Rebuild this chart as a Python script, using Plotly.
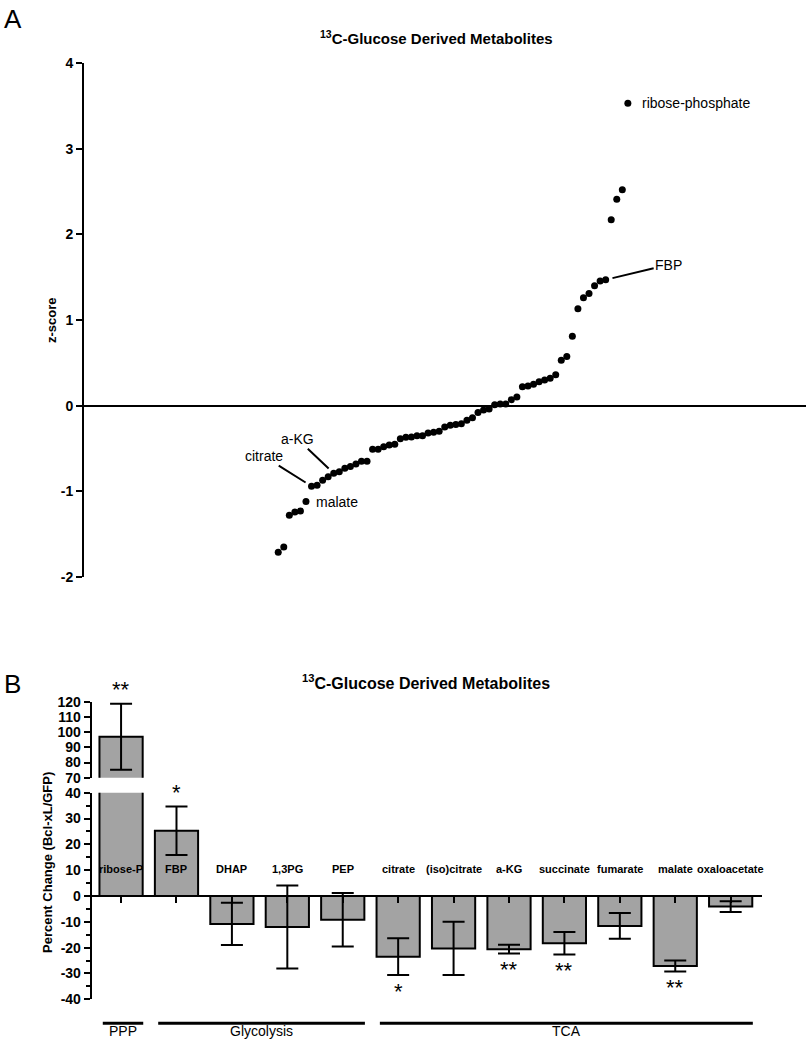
import plotly.graph_objects as go

# ---------------- Panel A data ----------------
zscores = [-1.71, -1.65, -1.28, -1.24, -1.23, -1.12, -0.94, -0.93, -0.87, -0.83,
           -0.79, -0.77, -0.73, -0.71, -0.68, -0.65, -0.65, -0.51, -0.51, -0.48,
           -0.46, -0.45, -0.385, -0.37, -0.365, -0.35, -0.35, -0.32, -0.31, -0.30,
           -0.25, -0.23, -0.22, -0.21, -0.17, -0.14, -0.08, -0.05, -0.04, 0.01,
           0.02, 0.02, 0.07, 0.10, 0.22, 0.23, 0.25, 0.28, 0.30, 0.32,
           0.36, 0.53, 0.575, 0.81, 1.13, 1.26, 1.31, 1.40, 1.455, 1.47,
           2.17, 2.41, 2.52, 3.53]
ranks = list(range(1, len(zscores) + 1))
z_ticks = [-2, -1, 0, 1, 2, 3, 4]
# labelled points: (name, rank index)
point_labels = {"malate": 6, "citrate": 7, "a-KG": 11, "FBP": 60, "ribose-phosphate": 64}

# ---------------- Panel B data ----------------
metabolites = ["ribose-P", "FBP", "DHAP", "1,3PG", "PEP", "citrate", "(iso)citrate",
               "a-KG", "succinate", "fumarate", "malate", "oxaloacetate"]
pct_change = [97.0, 25.3, -10.8, -12.0, -9.2, -23.5, -20.3, -20.6, -18.3, -11.6, -27.1, -4.1]
pct_err = [21.7, 9.4, 8.2, 16.1, 10.4, 7.1, 10.3, 1.7, 4.4, 5.0, 2.1, 2.1]
significance = ["**", "*", "", "", "", "*", "", "**", "**", "", "**", ""]
groups = [("PPP", 0, 0), ("Glycolysis", 1, 4), ("TCA", 5, 11)]
low_ticks = [-40, -30, -20, -10, 0, 10, 20, 30, 40]
up_ticks = [70, 80, 90, 100, 110, 120]

FONT = "Liberation Sans, Arial, Helvetica, sans-serif"
W, H = 806, 1050

# ---- geometry (paper fractions) ----
A_x = [84 / W, 1.0]
A_y = [(H - 577) / H, (H - 63) / H]
B_x = [91.7 / W, 761.7 / W]
B_low = [(H - 999.3) / H, (H - 792.7) / H]   # -40 .. 40
B_up = [(H - 777.7) / H, (H - 701.7) / H]    # 70 .. 120
LOW_R = [-40, 40]
UP_R = [70, 120]


def low_paper(v):
    return B_low[0] + (v - LOW_R[0]) / (LOW_R[1] - LOW_R[0]) * (B_low[1] - B_low[0])


def up_paper(v):
    return B_up[0] + (v - UP_R[0]) / (UP_R[1] - UP_R[0]) * (B_up[1] - B_up[0])


def tlabels(vals):
    return ["<b>%d</b>" % v for v in vals]


fig = go.Figure()

# Panel A scatter
fig.add_trace(go.Scatter(x=ranks, y=zscores, mode="markers",
                         marker=dict(color="black", size=7),
                         xaxis="x", yaxis="y", showlegend=False))

bar_style = dict(marker=dict(color="#a3a3a3", line=dict(color="black", width=2)),
                 error_y=dict(type="data", array=pct_err, visible=True,
                              color="black", thickness=2, width=11),
                 width=0.78, showlegend=False)
fig.add_trace(go.Bar(x=metabolites, y=pct_change, xaxis="x2", yaxis="y2", **bar_style))
fig.add_trace(go.Bar(x=metabolites, y=pct_change, xaxis="x3", yaxis="y3", **bar_style))

zero_pos = low_paper(0)
tickfont = dict(family=FONT, size=14, color="black")
yax_common = dict(showline=True, linecolor="black", linewidth=2,
                  ticks="outside", ticklen=6, tickwidth=2, tickcolor="black",
                  showgrid=False, tickfont=tickfont, automargin=False)

fig.update_layout(
    width=W, height=H, margin=dict(l=0, r=0, t=0, b=0, autoexpand=False),
    paper_bgcolor="white", plot_bgcolor="white",
    font=dict(family=FONT, color="black"),
    xaxis=dict(domain=A_x, range=[-34, 96.1], visible=False, anchor="y", automargin=False),
    yaxis=dict(domain=A_y, range=[-2, 4], anchor="x",
               tickmode="array", tickvals=z_ticks, ticktext=tlabels(z_ticks),
               zeroline=True, zerolinecolor="black", zerolinewidth=2, **yax_common),
    xaxis2=dict(domain=B_x, range=[-0.53, 11.56], type="category",
                anchor="free", position=zero_pos, automargin=False,
                showline=False, showgrid=False, ticks="outside", ticklen=6,
                tickwidth=2, tickcolor="black", showticklabels=False),
    yaxis2=dict(domain=B_low, range=LOW_R, anchor="x2",
                tickmode="array", tickvals=low_ticks, ticktext=tlabels(low_ticks),
                minor=dict(dtick=5, ticks="outside", ticklen=4, tickwidth=2, tickcolor="black"),
                zeroline=True, zerolinecolor="black", zerolinewidth=2, **yax_common),
    xaxis3=dict(domain=B_x, range=[-0.53, 11.56], type="category", anchor="y3",
                visible=False, matches="x2", automargin=False),
    yaxis3=dict(domain=B_up, range=UP_R, anchor="x3",
                tickmode="array", tickvals=up_ticks, ticktext=tlabels(up_ticks),
                zeroline=False, **yax_common),
    bargap=0.22,
)

ann = []
# panel letters
ann.append(dict(text="A", x=2 / W, y=1 - 19 / H, xref="paper", yref="paper",
                xanchor="left", yanchor="middle", showarrow=False,
                font=dict(family=FONT, size=26)))
ann.append(dict(text="B", x=2 / W, y=1 - 684 / H, xref="paper", yref="paper",
                xanchor="left", yanchor="middle", showarrow=False,
                font=dict(family=FONT, size=26)))
# titles
title = "<b><sup>13</sup>C-Glucose Derived Metabolites</b>"
ann.append(dict(text=title, x=437 / W, y=1 - 37 / H, xref="paper", yref="paper",
                xanchor="center", yanchor="middle", showarrow=False,
                font=dict(family=FONT, size=15)))
ann.append(dict(text=title, x=426 / W, y=1 - 682 / H, xref="paper", yref="paper",
                xanchor="center", yanchor="middle", showarrow=False,
                font=dict(family=FONT, size=16)))
# axis titles
ann.append(dict(text="<b>z-score</b>", x=51 / W, y=1 - 320 / H, xref="paper", yref="paper",
                xanchor="center", yanchor="middle",
                textangle=-90, showarrow=False, font=dict(family=FONT, size=13)))
ann.append(dict(text="<b>Percent Change (Bcl-xL/GFP)</b>", x=47 / W, y=1 - 863 / H,
                xref="paper", yref="paper", xanchor="center", yanchor="middle",
                textangle=-90, showarrow=False, font=dict(family=FONT, size=13)))

# panel A point labels
lab_font = dict(family=FONT, size=14, color="black")
for name, idx in point_labels.items():
    xv, yv = ranks[idx - 1], zscores[idx - 1]
    if name in ("malate", "ribose-phosphate"):
        ann.append(dict(text=name, x=xv, y=yv, xref="x", yref="y", showarrow=False,
                        xanchor="left", yanchor="middle",
                        xshift=8 if name == "malate" else 12, font=lab_font))
    else:
        off = {"FBP": (63, -15), "citrate": (-48, -30), "a-KG": (-36, -34)}[name]
        ann.append(dict(text=name, x=xv, y=yv, xref="x", yref="y", showarrow=True,
                        arrowhead=0, arrowwidth=2, arrowcolor="black", standoff=7,
                        ax=off[0], ay=off[1], font=lab_font))

# panel B category labels and significance stars
for i, (m, v, e, s) in enumerate(zip(metabolites, pct_change, pct_err, significance)):
    ann.append(dict(text="<b>%s</b>" % m, x=m, y=low_paper(7.5), xref="x2", yref="paper",
                    showarrow=False, font=dict(family=FONT, size=11)))
    if s:
        if v > 0:
            ytop = v + e
            py = up_paper(ytop) + 14 / H if ytop > 70 else low_paper(ytop) + 14 / H
        else:
            py = low_paper(v - e) - 16 / H
        ann.append(dict(text=s, x=m, y=py, xref="x2", yref="paper", showarrow=False,
                        yanchor="middle", font=dict(family=FONT, size=22)))

# group lines and labels
shapes = []
for gname, i0, i1 in groups:
    shapes.append(dict(type="line", xref="x2", yref="paper",
                       x0=i0 - 0.33, x1=i1 + 0.4, y0=low_paper(-49.3), y1=low_paper(-49.3),
                       line=dict(color="black", width=3)))
    ann.append(dict(text=gname, x=(i0 + i1) / 2 + 0.03, y=low_paper(-56.3), xref="x2",
                    yref="paper", showarrow=False, font=dict(family=FONT, size=14)))

fig.update_layout(annotations=ann, shapes=shapes)
fig.write_html("out.html",
               config={"displayModeBar": False},
               post_script="document.body.style.margin='0';"
                           "document.body.style.overflow='hidden';")
